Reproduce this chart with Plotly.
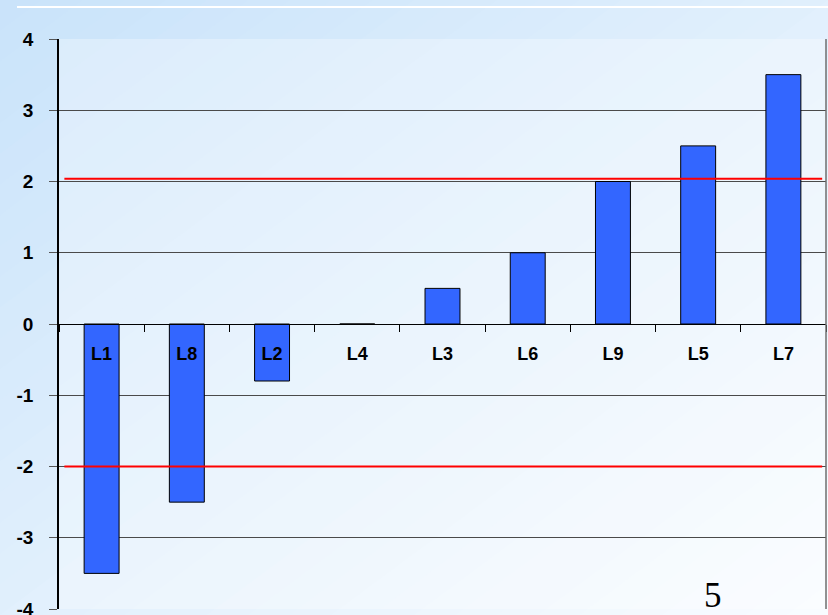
import plotly.graph_objects as go

categories = ["L1", "L8", "L2", "L4", "L3", "L6", "L9", "L5", "L7"]
values = [-3.5, -2.5, -0.8, 0.0, 0.5, 1.0, 2.0, 2.5, 3.5]
threshold_lines = [2.04, -2.0]
y_ticks = [-4, -3, -2, -1, 0, 1, 2, 3, 4]
y_tick_labels = ["-4", "-3", "-2", "-1", "0", "1", "2", "3", "4"]
slide_number = "5"

W, H = 828, 615
L, R, T, B = 59, 2, 39, 6
PW, PH = W - L - R, H - T - B


def px2paper(px, py):
    return (px - L) / PW, (H - B - py) / PH


def lerp(c0, c1, t):
    return "#%02x%02x%02x" % tuple(int(round(a + (b - a) * t)) for a, b in zip(c0, c1))


shapes = []
# diagonal background gradient (top-left bluish -> bottom-right whitish)
c_start = (0xc9, 0xe3, 0xfa)
c_end = (0xf9, 0xfc, 0xff)
N = 40
for i in range(N):
    c0 = 2.0 * i / N
    c1 = 2.0 * (i + 1) / N + 0.01
    pts_uv = [(c0 + 1, -1), (c0 - 2, 2), (c1 - 2, 2), (c1 + 1, -1)]
    pts = [px2paper(u * W, v * H) for u, v in pts_uv]
    path = "M " + " L ".join(f"{x:.4f},{y:.4f}" for x, y in pts) + " Z"
    shapes.append(dict(type="path", path=path, xref="paper", yref="paper",
                       fillcolor=lerp(c_start, c_end, (i + 0.5) / N),
                       line=dict(width=0), layer="below"))
# plot area lighter veil
shapes.append(dict(type="rect", xref="paper", yref="paper", x0=0, x1=1, y0=0, y1=1,
                   fillcolor="rgba(255,255,255,0.3)", line=dict(width=0), layer="below"))
# top white line
x0p, y0p = px2paper(17, 7)
x1p, _ = px2paper(828, 7)
shapes.append(dict(type="line", xref="paper", yref="paper", x0=x0p, x1=x1p, y0=y0p, y1=y0p,
                   line=dict(color="white", width=2), layer="above"))
# right border
shapes.append(dict(type="line", xref="paper", yref="paper", x0=1, x1=1, y0=0, y1=1,
                   line=dict(color="#6e6e6e", width=1.5), layer="above"))
# red threshold lines
for v in threshold_lines:
    shapes.append(dict(type="line", xref="paper", yref="y", x0=0.007, x1=0.995, y0=v, y1=v,
                       line=dict(color="#ff0000", width=2), layer="above"))

fig = go.Figure()
fig.add_trace(go.Bar(
    x=categories, y=values,
    marker=dict(color="#3366ff", line=dict(color="black", width=1)),
    hoverinfo="x+y",
))

fig.update_layout(
    width=W, height=H,
    margin=dict(l=L, r=R, t=T, b=B),
    paper_bgcolor="#e4f0fc",
    plot_bgcolor="rgba(0,0,0,0)",
    showlegend=False,
    bargap=0.59,
    shapes=shapes,
    annotations=[dict(text=slide_number, xref="paper", yref="paper",
                      x=px2paper(713, 595)[0], y=px2paper(713, 595)[1],
                      showarrow=False, xanchor="center", yanchor="middle",
                      font=dict(family="Liberation Serif, Times New Roman, serif", size=35, color="black"))],
    xaxis=dict(
        type="category",
        anchor="free", position=0.5, automargin=False,
        showline=True, linecolor="black", linewidth=1,
        ticks="outside", ticklen=7, tickcolor="black", tickson="boundaries",
        ticklabelstandoff=13,
        tickfont=dict(family="Arial, Liberation Sans, sans-serif", size=18, color="black", weight="bold"),
        showgrid=False, zeroline=False,
        range=[-0.5, 8.5],
    ),
    yaxis=dict(
        range=[-4, 4], tickvals=y_ticks, ticktext=y_tick_labels,
        automargin=False,
        showline=True, linecolor="black", linewidth=1.5,
        ticks="outside", ticklen=8, tickcolor="#555555",
        ticklabelstandoff=12, ticklabeloverflow="allow",
        showgrid=True, gridcolor="#4a4a4a", gridwidth=1,
        zeroline=False,
        tickfont=dict(family="Arial, Liberation Sans, sans-serif", size=19, color="black", weight="bold"),
    ),
)

fig.write_html("out.html", post_script="document.body.style.margin='0';",
               config={"displayModeBar": False})
